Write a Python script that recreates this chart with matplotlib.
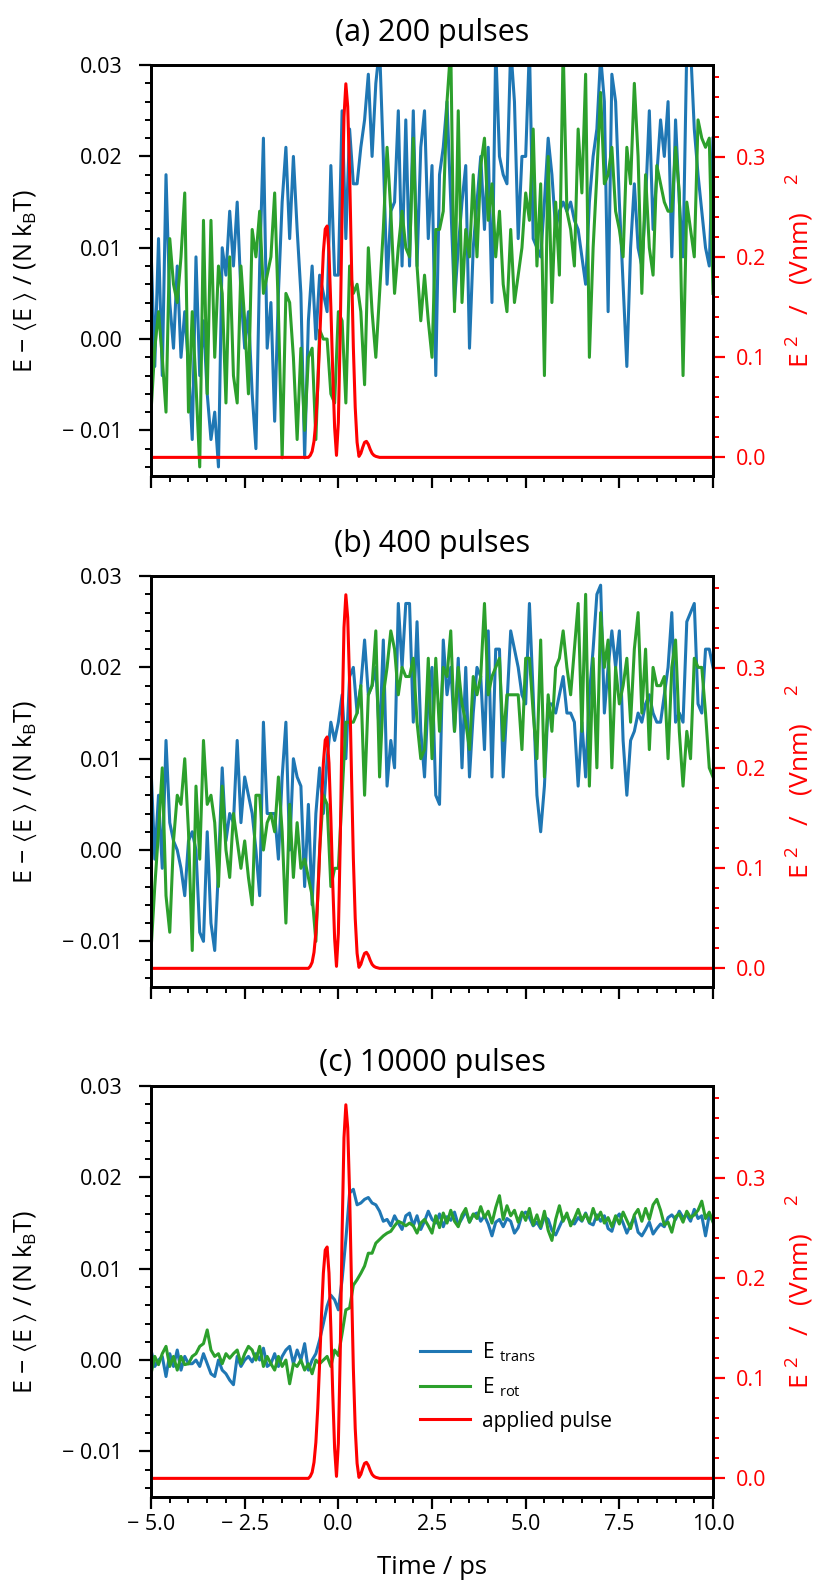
import numpy as np
import matplotlib
matplotlib.use('Agg')
import matplotlib.pyplot as plt
from matplotlib.ticker import MultipleLocator, FuncFormatter

# energia por panel, en unidades de 1e-3 (N kB T), muestreo cada 0.1 ps de -5 a 10 ps
time = np.linspace(-5.0, 10.0, 151)

a_trans = [10, -3, 11, -4, 18, 4, -1, 8, -2, 3,
           -3, -11, 9, -4, 2, -6, -11, -8, -14, 10,
           7, 14, 8, 15, 5, -1, 3, -6, -12, 8,
           22, -1, 4, -9, 5, 15, 21, 11, 20, 12,
           5, -13, 2, 8, 0, 7, 5, 3, 19, 7,
           7, 25, 11, 23, 17, 17, 21, 24, 29, 20,
           28, 32, 20, 6, 14, 15, 25, 8, 24, 8,
           25, 8, 21, 25, 11, 19, -4, 18, 21, 26,
           15, 4, 10, 15, 19, -1, 10, 15, 20, 12,
           21, 4, 32, 20, 18, 17, 32, 26, 11, 20,
           20, 32, 11, 10, 9, 15, 22, 18, 12, 14,
           15, 14, 15, 13, 12, 9, 6, 15, 20, 23,
           31, 26, 3, 29, 26, 15, 6, -3, 10, 17,
           10, 8, 15, 25, 12, 18, 24, 20, 26, 9,
           24, 15, 9, 32, 32, 23, 18, 14, 10, 8,
           22]
a_rot = [-8, -1, 3, -2, -8, 11, 6, 4, 9, 16,
         -8, 3, -5, -14, 13, -6, 13, -2, 8, 5,
         -7, 9, -4, -7, 8, 2, -6, 12, 9, 14,
         5, 7, 9, 16, 3, -13, 5, 4, -2, -11,
         -1, -10, -2, -1, -11, 1, 0, 0, -6, -7,
         3, 2, -7, 8, 5, 6, 3, -5, 10, 3,
         -2, 5, 12, 21, 14, 5, 10, 14, 10, 9,
         22, 8, 2, 7, 2, -2, 12, 12, 14, 26,
         32, 3, 25, 4, 12, 9, 18, 9, 19, 22,
         13, 17, 9, 14, 6, 3, 12, 4, 7, 10,
         16, 13, 23, 8, 17, -4, 20, 4, 15, 7,
         32, 14, 12, 8, 23, 16, 29, -2, 10, 18,
         27, 17, 18, 21, 14, 12, 9, 21, 17, 28,
         20, 5, 18, 10, 7, 19, 17, 15, 14, 14,
         21, 16, -4, 15, 12, 9, 24, 22, 21, 22,
         5]

b_trans = [9, -1, 6, -2, 12, 3, 1, 0, -2, -5,
           1, 2, 0, -9, -10, 2, -8, -11, -2, 9,
           1, 4, 3, 12, 3, 8, 6, 4, 0, -5,
           14, 4, 4, 4, -1, 8, 14, 0, 10, 8,
           7, -4, 5, -6, 4, 9, 4, 10, 14, 12,
           14, 17, 10, 19, 20, 15, 18, 23, 17, 18,
           20, 12, 23, 7, 12, 9, 27, 20, 27, 27,
           14, 25, 13, 8, 17, 20, 6, 5, 23, 17,
           20, 13, 21, 9, 20, 8, 15, 20, 19, 11,
           24, 8, 22, 22, 8, 16, 24, 22, 20, 17,
           16, 27, 17, 6, 2, 7, 16, 16, 15, 17,
           19, 15, 15, 14, 7, 14, 8, 17, 22, 28,
           29, 15, 20, 24, 20, 24, 12, 6, 12, 13,
           15, 14, 16, 17, 15, 14, 14, 17, 20, 26,
           14, 15, 14, 25, 26, 27, 16, 15, 22, 22,
           20]
b_rot = [-11, -4, 2, 9, -5, -9, 1, 6, 5, 10,
         2, -11, 7, -1, 12, 5, 6, 3, -4, 7,
         0, -3, 4, 1, -2, 1, -3, -6, 6, 6,
         0, 3, 4, 2, 8, 2, -8, 5, -3, 3,
         -2, -1, -3, -5, -10, 0, 6, 5, -4, -2,
         -2, 6, 14, 14, 14, 15, 18, 6, 17, 18,
         24, 8, 17, 20, 24, 22, 17, 20, 19, 19,
         21, 14, 10, 11, 21, 10, 21, 13, 20, 19,
         24, 13, 20, 16, 14, 11, 19, 17, 19, 27,
         17, 19, 20, 21, 12, 17, 17, 17, 17, 11,
         21, 21, 15, 10, 23, 8, 17, 13, 20, 21,
         24, 20, 17, 22, 27, 13, 28, 7, 21, 9,
         26, 20, 23, 9, 20, 16, 18, 21, 14, 22,
         26, 15, 22, 11, 20, 18, 18, 19, 10, 20,
         23, 13, 7, 13, 10, 21, 20, 20, 15, 9,
         8]

c_trans = [1.1, -0.7, 0.0, 0.4, -1.8, 0.7, -0.7, 1.1, -1.1, 0.4,
           -0.4, -0.4, 0.0, -0.7, 0.7, -0.4, -1.5, -1.8, 0.0, -1.1,
           -1.5, -2.2, -2.7, 0.4, -0.7, 0.0, 0.4, -0.2, 0.7, 0.0,
           1.3, -0.7, -0.4, 0.7, -0.7, 0.4, 1.1, 1.5, -0.4, 1.1,
           0.0, 1.8, -1.1, 0.0, 0.7, 2.2, 4.0, 5.9, 7.1, 6.6,
           5.5, 8.8, 13.2, 18.3, 18.7, 17.0, 17.2, 17.6, 17.8, 17.2,
           17.0, 16.3, 15.2, 15.4, 14.7, 15.8, 15.0, 14.3, 15.8, 16.1,
           14.7, 15.8, 14.3, 15.2, 16.3, 15.4, 15.0, 16.0, 14.6, 15.7,
           15.3, 16.2, 14.8, 15.5, 16.3, 15.1, 15.9, 16.1, 15.2, 15.8,
           14.9, 13.6, 15.1, 15.4, 14.6, 15.5, 15.2, 13.9, 14.5, 15.9,
           16.2, 15.6, 14.7, 15.1, 14.4, 15.7, 15.4, 14.2, 13.7, 14.6,
           15.5, 15.8, 15.1, 14.9, 15.6, 15.2, 16.1, 15.0, 14.8, 15.9,
           15.2, 15.8, 14.4, 14.1, 15.5, 16.0, 15.0, 13.9, 14.8, 15.7,
           14.0, 13.6, 14.3, 15.1, 13.8, 14.4, 14.9, 14.6, 15.6, 15.9,
           15.4, 16.3, 15.6, 15.9, 15.2, 16.5, 15.5, 15.8, 13.6, 15.9,
           15.2]
c_rot = [-1.5, 0.4, -0.5, 0.7, 1.5, -0.7, 0.4, -1.1, 0.4, -0.5,
         -0.4, 0.4, 0.7, 1.5, 1.8, 3.3, 1.1, 0.4, 0.7, -0.4,
         0.7, 0.2, 0.7, 1.1, -0.4, 0.7, 1.5, 1.1, 0.0, 1.5,
         -0.7, 0.4, -0.4, -1.1, 0.4, -0.7, 0.0, -2.6, -0.4, -0.7,
         0.0, -1.1, -0.4, -1.5, 0.0, -0.4, 0.0, 0.4, -0.7, 1.1,
         0.5, 2.9, 5.5, 5.7, 8.2, 8.8, 9.5, 10.3, 11.7, 11.7,
         12.8, 13.2, 13.6, 13.9, 14.1, 14.7, 15.2, 15.0, 14.7, 15.0,
         14.7, 13.9, 15.0, 15.4, 14.7, 13.9, 15.8, 14.5, 16.1, 15.0,
         16.4, 15.2, 14.6, 15.9, 16.6, 15.1, 16.0, 15.5, 16.8, 15.6,
         16.3, 15.0, 16.7, 18.0, 15.4, 16.9, 15.8, 16.4, 15.1, 16.2,
         15.3, 16.6, 14.8, 15.9, 14.6, 16.3, 14.2, 13.1, 15.4, 16.9,
         15.2, 16.1, 14.7, 15.5, 16.5, 15.3, 16.0, 15.1, 16.6, 15.4,
         16.2, 15.0, 15.6, 14.6, 15.8, 14.9, 16.2, 15.3, 14.4, 15.9,
         16.5, 15.2, 16.6, 15.4, 17.0, 17.6, 16.4, 14.8, 15.1, 14.0,
         15.7, 16.0, 15.1, 16.3, 15.6, 15.9, 16.4, 17.4, 15.5, 16.2,
         15.1]

# pulso aplicado E^2 en (V/nm)^2
pulse_t = [-5.0, -0.85, -0.80, -0.75, -0.70, -0.65, -0.60, -0.55, -0.50, -0.45,
           -0.40, -0.35, -0.30, -0.25, -0.20, -0.15, -0.10, -0.05, 0.00, 0.05,
           0.10, 0.15, 0.20, 0.25, 0.30, 0.35, 0.40, 0.45, 0.50, 0.55,
           0.60, 0.65, 0.70, 0.75, 0.80, 0.85, 0.90, 0.95, 1.00, 1.10, 10.0]
pulse_v = [0.0, 0.0, 0.000, 0.002, 0.006, 0.016, 0.036, 0.070, 0.115, 0.163,
           0.205, 0.228, 0.231, 0.205, 0.150, 0.085, 0.030, 0.002, 0.035, 0.125,
           0.245, 0.340, 0.373, 0.350, 0.285, 0.195, 0.110, 0.050, 0.015, 0.001,
           0.004, 0.010, 0.015, 0.016, 0.013, 0.008, 0.004, 0.002, 0.001, 0.0, 0.0]

titles = ['(a) 200 pulses', '(b) 400 pulses', '(c) 10000 pulses']
panels = [(a_trans, a_rot), (b_trans, b_rot), (c_trans, c_rot)]
bottoms = [0.6987, 0.3753, 0.0525]
title_pads = [17, 17, 11]

plt.rcParams['font.family'] = ['Open Sans', 'DejaVu Sans']
plt.rcParams['mathtext.fontset'] = 'custom'
plt.rcParams['mathtext.rm'] = 'Open Sans'
plt.rcParams['mathtext.it'] = 'Open Sans'
plt.rcParams['mathtext.fallback'] = 'stixsans'

blue = '#1f77b4'
green = '#2ca02c'
red = '#ff0000'


def fmt_minus(dec):
    def f(v, pos):
        s = f'{v:.{dec}f}'
        if s.startswith('-'):
            s = '\u2212 ' + s[1:]
        return s
    return FuncFormatter(f)


fig = plt.figure(figsize=(8.19, 15.8), dpi=100)

for i in range(3):
    trans, rot = panels[i]
    ax = fig.add_axes([0.1844, bottoms[i], 0.6862, 0.2601])
    ax2 = ax.twinx()

    l1, = ax.plot(time, np.array(trans) * 1e-3, color=blue, lw=2.2, label=r'E $_{\mathregular{trans}}$')
    l2, = ax.plot(time, np.array(rot) * 1e-3, color=green, lw=2.2, label=r'E $_{\mathregular{rot}}$')
    l3, = ax2.plot(pulse_t, pulse_v, color=red, lw=2.2, label='applied pulse')

    ax.set_xlim(-5, 10)
    ax.set_ylim(-0.015, 0.03)

    ax.xaxis.set_major_locator(MultipleLocator(2.5))
    ax.xaxis.set_minor_locator(MultipleLocator(0.5))
    ax.yaxis.set_major_locator(MultipleLocator(0.01))
    ax.yaxis.set_minor_locator(MultipleLocator(0.002))
    ax.yaxis.set_major_formatter(fmt_minus(2))
    ax.xaxis.set_major_formatter(fmt_minus(1))
    ax2.yaxis.set_major_locator(MultipleLocator(0.1))
    ax2.yaxis.set_minor_locator(MultipleLocator(0.02))
    ax2.yaxis.set_major_formatter(fmt_minus(1))

    ax.tick_params(which='major', direction='out', length=8.5, width=1.6, labelsize=15.5, top=False)
    ax.tick_params(axis='y', which='major', pad=12)
    ax.tick_params(axis='x', which='major', pad=4)
    ax.tick_params(which='minor', direction='out', length=4.5, width=1.4, top=False)
    ax2.tick_params(which='major', direction='out', length=8.5, width=1.6, labelsize=15.5,
                    colors=red, pad=8)
    ax2.tick_params(which='minor', direction='out', length=4.5, width=1.4, colors=red)
    for sp in ax2.spines.values():
        sp.set_linewidth(2.0)
    for sp in ax.spines.values():
        sp.set_linewidth(2.0)

    if i < 2:
        ax.set_xticklabels([])
    else:
        ax.set_xlabel('Time / ps', fontsize=18.5, labelpad=14)
        ax2.legend([l1, l2, l3], [l1.get_label(), l2.get_label(), l3.get_label()],
                   loc='center left', bbox_to_anchor=(0.445, 0.27), frameon=False,
                   fontsize=15, handlelength=2.4, handletextpad=0.6, labelspacing=0.55)

    ax.set_ylabel(r'E $-$ $\langle$E $\rangle$ / (N k$_{\mathregular{B}}$T)', fontsize=18)
    ax.yaxis.set_label_coords(-0.2, 0.475)
    ax2.set_ylabel(r'E $^{\mathregular{2}}$   /   (Vnm)    $^{\mathregular{2}}$', fontsize=19, color=red)
    ax2.yaxis.set_label_coords(1.128, 0.5)
    ax.set_title(titles[i], fontsize=22, pad=title_pads[i])

plt.savefig('out.png', dpi=100)
